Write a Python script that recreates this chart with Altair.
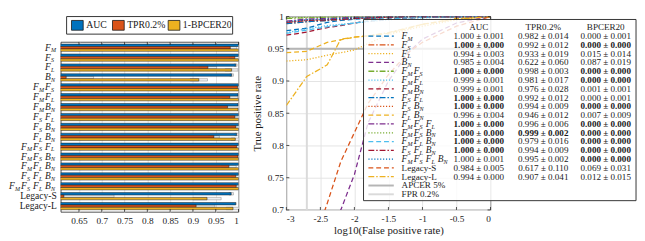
import math
import altair as alt
import pandas as pd

# ---------------- data ----------------
CATS = ["F_M", "F_S", "F_L", "B_N", "F_M F_S", "F_M F_L", "F_M B_N", "F_S F_L",
        "F_S B_N", "F_L B_N", "F_M F_S F_L", "F_M F_S B_N", "F_M F_L B_N",
        "F_S F_L B_N", "F_M F_S F_L B_N", "Legacy-S", "Legacy-L"]
METRICS = ["AUC", "TPR0.2%", "1-BPCER20"]

AUC_MEAN = [1.000, 1.000, 0.994, 0.985, 1.000, 0.999, 0.999, 1.000, 1.000, 0.996,
            1.000, 1.000, 1.000, 1.000, 1.000, 0.984, 0.994]
AUC_STD = [0.001, 0.000, 0.003, 0.004, 0.000, 0.001, 0.001, 0.000, 0.000, 0.004,
           0.000, 0.000, 0.000, 0.000, 0.001, 0.005, 0.000]
TPR_MEAN = [0.982, 0.992, 0.933, 0.622, 0.998, 0.981, 0.976, 0.992, 0.994, 0.946,
            0.996, 0.999, 0.979, 0.994, 0.995, 0.617, 0.907]
TPR_STD = [0.014, 0.012, 0.019, 0.060, 0.003, 0.017, 0.028, 0.012, 0.009, 0.012,
           0.006, 0.002, 0.016, 0.009, 0.002, 0.110, 0.041]
BPCER_MEAN = [0.000, 0.000, 0.015, 0.087, 0.000, 0.000, 0.001, 0.000, 0.000, 0.007,
              0.000, 0.000, 0.000, 0.000, 0.000, 0.069, 0.012]
BPCER_STD = [0.001, 0.000, 0.014, 0.019, 0.000, 0.000, 0.001, 0.001, 0.000, 0.009,
             0.000, 0.000, 0.000, 0.000, 0.000, 0.031, 0.015]

LOG_FPR = [-3.0, -2.7, -2.4, -2.2, -2.0, -1.8, -1.5, -1.2, -1.0, -0.5, 0.0]
ROC_TPR = [
    [0.978, 0.982, 0.991, 0.994, 0.996, 0.997, 0.998, 0.999, 0.999, 1.000, 1.000],
    [0.989, 0.992, 0.994, 0.995, 0.997, 0.998, 0.999, 1.000, 1.000, 1.000, 1.000],
    [0.931, 0.933, 0.940, 0.944, 0.948, 0.958, 0.972, 0.980, 0.985, 0.995, 1.000],
    [0.500, 0.622, 0.665, 0.700, 0.755, 0.835, 0.900, 0.945, 0.965, 0.990, 1.000],
    [0.997, 0.998, 0.999, 0.999, 0.999, 1.000, 1.000, 1.000, 1.000, 1.000, 1.000],
    [0.975, 0.981, 0.986, 0.988, 0.990, 0.992, 0.995, 0.997, 0.998, 1.000, 1.000],
    [0.971, 0.976, 0.983, 0.986, 0.990, 0.993, 0.996, 0.998, 0.999, 1.000, 1.000],
    [0.989, 0.992, 0.994, 0.996, 0.997, 0.998, 0.999, 1.000, 1.000, 1.000, 1.000],
    [0.991, 0.994, 0.995, 0.996, 0.997, 0.998, 0.999, 1.000, 1.000, 1.000, 1.000],
    [0.944, 0.946, 0.960, 0.964, 0.968, 0.970, 0.974, 0.982, 0.988, 0.997, 1.000],
    [0.993, 0.996, 0.997, 0.998, 0.999, 1.000, 1.000, 1.000, 1.000, 1.000, 1.000],
    [0.998, 0.999, 0.999, 1.000, 1.000, 1.000, 1.000, 1.000, 1.000, 1.000, 1.000],
    [0.974, 0.979, 0.984, 0.987, 0.990, 0.993, 0.996, 0.998, 0.999, 1.000, 1.000],
    [0.991, 0.994, 0.995, 0.996, 0.997, 0.998, 0.999, 1.000, 1.000, 1.000, 1.000],
    [0.992, 0.995, 0.996, 0.997, 0.998, 0.999, 1.000, 1.000, 1.000, 1.000, 1.000],
    [0.500, 0.617, 0.710, 0.775, 0.820, 0.865, 0.910, 0.945, 0.960, 0.985, 1.000],
    [0.862, 0.907, 0.925, 0.965, 0.968, 0.970, 0.975, 0.983, 0.988, 0.996, 1.000],
]
APCER_LEVEL = 0.05
FPR_LEVEL = 0.002
REF_LABELS = ["APCER 5%", "FPR 0.2%"]
TABLE_HEAD = ["AUC", "TPR0.2%", "BPCER20"]
TICKS_L = [0.65, 0.7, 0.75, 0.8, 0.85, 0.9, 0.95, 1.0]
TICKS_RX = [-3, -2.5, -2, -1.5, -1, -0.5, 0]
TICKS_RY = [0.7, 0.75, 0.8, 0.85, 0.9, 0.95, 1.0]

# ---------------- styles ----------------
SERIF = "Liberation Serif"
MATLAB = ["#0072BD", "#D95319", "#EDB120", "#7E2F8E", "#77AC30", "#4DBEEE", "#A2142F"]
DASHES = [[5, 3], [6, 2, 1.5, 2], [1.2, 1.8]]
SER_COLORS = [MATLAB[i % 7] for i in range(len(CATS))]
SER_DASH = [DASHES[i % 3] for i in range(len(CATS))]
BAR_COLORS = ["#0072BD", "#D95319", "#EDB120"]
TXT = "#1a1a1a"
GRID = "#e3e3e3"
TICK_LEN = 3

W_L, H_L = 182, 174
W_R, H_R = 209, 198
LEG_H = 18

# token metrics for "F_M"-style labels
TOK_STEP, SUB_DX, MAIN_FS, SUB_FS, SUB_DY = 12.3, 6.0, 9.6, 6.2, 2.8


def tokens(lbl):
    parts = lbl.split()
    if all("_" in p for p in parts):
        return [tuple(p.split("_")) for p in parts]
    return None


# ---------------- left: legend strip ----------------
leg_df = pd.DataFrame({"metric": METRICS,
                       "sx": [11, 53, 110], "tx": [26, 68, 125]})
leg_box = alt.Chart(pd.DataFrame({"a": [6], "b": [176], "c": [0], "d": [LEG_H]})).mark_rect(
    fill="white", stroke="#333333", strokeWidth=1).encode(
    x=alt.X("a:Q", scale=None), x2="b:Q", y=alt.Y("c:Q", scale=None), y2="d:Q")
leg_sq = alt.Chart(leg_df).transform_calculate(
    sx2="datum.sx + 12", sy=str(LEG_H / 2 - 5), sy2=str(LEG_H / 2 + 5)).mark_rect(
    stroke="#1a1a1a", strokeWidth=0.8).encode(
    x=alt.X("sx:Q", scale=None), x2="sx2:Q", y=alt.Y("sy:Q", scale=None), y2="sy2:Q",
    color=alt.Color("metric:N", scale=alt.Scale(domain=METRICS, range=BAR_COLORS), legend=None))
leg_tx = alt.Chart(leg_df).transform_calculate(ty=str(LEG_H / 2)).mark_text(
    font=SERIF, fontSize=10, align="left", baseline="middle", color=TXT).encode(
    x=alt.X("tx:Q", scale=None), y=alt.Y("ty:Q", scale=None), text="metric:N")
legend_strip = alt.layer(leg_box, leg_sq, leg_tx).properties(
    width=W_L, height=LEG_H, view=alt.ViewBackground(stroke="transparent"))

# ---------------- left: bar chart ----------------
rows = []
for i, c in enumerate(CATS):
    vals = [(AUC_MEAN[i], AUC_STD[i]), (TPR_MEAN[i], TPR_STD[i]),
            (1 - BPCER_MEAN[i], BPCER_STD[i])]
    for m, (v, s) in zip(METRICS, vals):
        rows.append({"cat": c, "metric": m, "value": v, "lo": v - s, "hi": v + s})
bars_df = pd.DataFrame(rows)

yscale = alt.Scale(domain=CATS, paddingInner=0.27, paddingOuter=0.22)
yenc = alt.Y("cat:N", scale=yscale, axis=alt.Axis(labels=False, ticks=False, title=None,
                                                    domain=False, grid=False))
yoff = alt.YOffset("metric:N", scale=alt.Scale(domain=METRICS, paddingInner=0.0, paddingOuter=0.0))
xscale_l = alt.Scale(domain=[0.61, 1.0], nice=False, zero=False)
xaxis_l = alt.Axis(values=TICKS_L, format="~g",
                   title=None, grid=True, gridColor=GRID, ticks=False, labelPadding=4,
                   domain=False)

err = alt.Chart(bars_df).mark_bar(clip=True, color="#eeeeee", stroke="#8a8a8a",
                                  strokeWidth=0.5).encode(
    x=alt.X("lo:Q", scale=xscale_l, axis=xaxis_l), x2="hi:Q", y=yenc, yOffset=yoff)

bars = alt.Chart(bars_df).mark_bar(clip=True, stroke="#1a1a1a", strokeWidth=0.5).encode(
    x=alt.X("value:Q", scale=xscale_l, axis=xaxis_l), y=yenc, yOffset=yoff,
    color=alt.Color("metric:N", scale=alt.Scale(domain=METRICS, range=BAR_COLORS), legend=None))

tl_df = pd.DataFrame({"v": TICKS_L})
ticks_l_bot = alt.Chart(tl_df).mark_rule(color="#262626", strokeWidth=0.8).encode(
    x=alt.X("v:Q", scale=xscale_l, axis=xaxis_l), y=alt.value(H_L), y2=alt.value(H_L - TICK_LEN))
ticks_l_top = alt.Chart(tl_df).mark_rule(color="#262626", strokeWidth=0.8).encode(
    x=alt.X("v:Q", scale=xscale_l, axis=xaxis_l), y=alt.value(0), y2=alt.value(TICK_LEN))

lab_main, lab_sub, lab_plain = [], [], []
for c in CATS:
    tk = tokens(c)
    if tk is None:
        lab_plain.append({"cat": c, "px": -4, "t": c})
    else:
        k = len(tk)
        for j, (a, b) in enumerate(tk):
            xm = -16 - (k - 1 - j) * TOK_STEP
            lab_main.append({"cat": c, "px": xm, "t": a})
            lab_sub.append({"cat": c, "px": xm + SUB_DX, "t": b})

ymain = alt.Y("cat:N", scale=yscale, axis=None)
t_main = alt.Chart(pd.DataFrame(lab_main)).mark_text(
    font=SERIF, fontStyle="italic", fontSize=MAIN_FS, align="left", baseline="middle",
    color=TXT).encode(x=alt.X("px:Q", scale=None), y=ymain, text="t:N")
t_sub = alt.Chart(pd.DataFrame(lab_sub)).mark_text(
    font=SERIF, fontStyle="italic", fontSize=SUB_FS, align="left", baseline="middle",
    dy=SUB_DY, color=TXT).encode(x=alt.X("px:Q", scale=None), y=ymain, text="t:N")
t_plain = alt.Chart(pd.DataFrame(lab_plain)).mark_text(
    font=SERIF, fontSize=9.8, align="right", baseline="middle",
    color=TXT).encode(x=alt.X("px:Q", scale=None), y=ymain, text="t:N")

barplot = alt.layer(err, bars, ticks_l_bot, ticks_l_top, t_main, t_sub, t_plain).properties(
    width=W_L, height=H_L)
left = alt.vconcat(legend_strip, barplot, spacing=6)

# ---------------- right: ROC curves ----------------
roc_rows = []
for i, c in enumerate(CATS):
    for k, (x, y) in enumerate(zip(LOG_FPR, ROC_TPR[i])):
        roc_rows.append({"series": c, "x": x, "y": y, "k": k})
roc_df = pd.DataFrame(roc_rows)

xscale_r = alt.Scale(domain=[-3, 0], nice=False, zero=False)
yscale_r = alt.Scale(domain=[0.7, 1.0], nice=False, zero=False)
xaxis_r = alt.Axis(values=TICKS_RX,
                   labelExpr="replace(format(datum.value, '~g'), '\u2212', '-')",
                   title="log10(False positive rate)", grid=True, gridColor=GRID,
                   ticks=False, labelPadding=4, titlePadding=2, domain=False)
yaxis_r = alt.Axis(values=TICKS_RY, format="~g",
                   title="True positive rate", grid=True, gridColor=GRID,
                   ticks=False, labelPadding=3, titlePadding=5, domain=False)
col_scale = alt.Scale(domain=CATS, range=SER_COLORS)
dash_scale = alt.Scale(domain=CATS, range=SER_DASH)

apcer = alt.Chart(pd.DataFrame({"y": [1 - APCER_LEVEL]})).mark_rule(
    color="#b5b5b5", strokeWidth=2).encode(y=alt.Y("y:Q", scale=yscale_r, axis=yaxis_r))
fprl = alt.Chart(pd.DataFrame({"x": [math.log10(FPR_LEVEL)]})).mark_rule(
    color="#dadada", strokeWidth=2).encode(x=alt.X("x:Q", scale=xscale_r, axis=xaxis_r))

curves = alt.Chart(roc_df).mark_line(clip=True, strokeWidth=1.3).encode(
    x=alt.X("x:Q", scale=xscale_r, axis=xaxis_r),
    y=alt.Y("y:Q", scale=yscale_r, axis=yaxis_r),
    color=alt.Color("series:N", scale=col_scale, legend=None),
    strokeDash=alt.StrokeDash("series:N", scale=dash_scale, legend=None),
    order="k:Q")

trx = pd.DataFrame({"v": TICKS_RX})
try_ = pd.DataFrame({"v": TICKS_RY})
tk_kw = dict(color="#262626", strokeWidth=0.8)
ticks_r = [
    alt.Chart(trx).mark_rule(**tk_kw).encode(
        x=alt.X("v:Q", scale=xscale_r, axis=xaxis_r), y=alt.value(H_R), y2=alt.value(H_R - TICK_LEN)),
    alt.Chart(trx).mark_rule(**tk_kw).encode(
        x=alt.X("v:Q", scale=xscale_r, axis=xaxis_r), y=alt.value(0), y2=alt.value(TICK_LEN)),
    alt.Chart(try_).mark_rule(**tk_kw).encode(
        y=alt.Y("v:Q", scale=yscale_r, axis=yaxis_r), x=alt.value(0), x2=alt.value(TICK_LEN)),
    alt.Chart(try_).mark_rule(**tk_kw).encode(
        y=alt.Y("v:Q", scale=yscale_r, axis=yaxis_r), x=alt.value(W_R), x2=alt.value(W_R - TICK_LEN)),
]

# legend table (pixel layout relative to the plot area)
LX0, LX1, LY0 = 79, 358, 3
ROW0, DY = 20.0, 9.0
n_rows = len(CATS) + len(REF_LABELS)
box = alt.Chart(pd.DataFrame({"a": [LX0], "b": [LX1], "c": [LY0],
                              "d": [ROW0 + (n_rows - 1) * DY + 6.5]})).mark_rect(
    fill="white", fillOpacity=0.8, stroke="#333333", strokeWidth=1).encode(
    x=alt.X("a:Q", scale=None), x2="b:Q", y=alt.Y("c:Q", scale=None), y2="d:Q")

samp = pd.DataFrame({"series": CATS, "x1": [84] * len(CATS), "x2": [110] * len(CATS),
                     "y": [ROW0 + i * DY for i in range(len(CATS))]})
samples = alt.Chart(samp).mark_rule(strokeWidth=1.3).encode(
    x=alt.X("x1:Q", scale=None), x2="x2:Q", y=alt.Y("y:Q", scale=None),
    color=alt.Color("series:N", scale=col_scale, legend=None),
    strokeDash=alt.StrokeDash("series:N", scale=dash_scale, legend=None))
ref_samp = alt.Chart(pd.DataFrame({
    "x1": [84, 84], "x2": [110, 110],
    "y": [ROW0 + (len(CATS) + j) * DY for j in range(2)],
    "c": ["#b5b5b5", "#dadada"]})).mark_rule(strokeWidth=2).encode(
    x=alt.X("x1:Q", scale=None), x2="x2:Q", y=alt.Y("y:Q", scale=None),
    color=alt.Color("c:N", scale=None))

lg_main, lg_sub, lg_plain = [], [], []
for i, c in enumerate(CATS + REF_LABELS):
    yy = ROW0 + i * DY
    tk = tokens(c)
    if tk is None:
        lg_plain.append({"px": 118, "py": yy, "t": c})
    else:
        for j, (a, b) in enumerate(tk):
            xm = 118 + j * TOK_STEP
            lg_main.append({"px": xm, "py": yy, "t": a})
            lg_sub.append({"px": xm + SUB_DX, "py": yy, "t": b})

cells = []
COLX = [197, 263, 327]
for i, c in enumerate(CATS):
    trip = [(AUC_MEAN[i], AUC_STD[i]), (TPR_MEAN[i], TPR_STD[i]), (BPCER_MEAN[i], BPCER_STD[i])]
    best = [
        (AUC_MEAN[i] == max(AUC_MEAN) and AUC_STD[i] == 0.0),
        (TPR_MEAN[i] == max(TPR_MEAN)),
        (BPCER_MEAN[i] == min(BPCER_MEAN) and BPCER_STD[i] == 0.0),
    ]
    for j, (m, s) in enumerate(trip):
        cells.append({"px": COLX[j], "py": ROW0 + i * DY, "t": f"{m:.3f} \u00b1 {s:.3f}",
                      "b": best[j]})
cells_df = pd.DataFrame(cells)
head_df = pd.DataFrame({"px": COLX, "py": [ROW0 - DY] * 3, "t": TABLE_HEAD})


def ptext(df, **kw):
    return alt.Chart(df).mark_text(font=SERIF, baseline="middle", color=TXT, **kw).encode(
        x=alt.X("px:Q", scale=None), y=alt.Y("py:Q", scale=None), text="t:N")


lg1 = ptext(pd.DataFrame(lg_main), fontStyle="italic", fontSize=MAIN_FS, align="left")
lg2 = ptext(pd.DataFrame(lg_sub), fontStyle="italic", fontSize=SUB_FS, align="left", dy=SUB_DY)
lg3 = ptext(pd.DataFrame(lg_plain), fontSize=9.3, align="left")
hd = ptext(head_df, fontSize=9.3, align="center")
c_norm = ptext(cells_df[~cells_df["b"]], fontSize=9.3, align="center")
c_bold = ptext(cells_df[cells_df["b"]], fontSize=9.3, align="center", fontWeight="bold")

right = alt.layer(fprl, apcer, curves, *ticks_r, box, samples, ref_samp, lg1, lg2, lg3, hd,
                  c_norm, c_bold).properties(width=W_R, height=H_R)

chart = alt.hconcat(left, right, spacing=11).resolve_scale(
    color="independent", strokeDash="independent", x="independent", y="independent"
).properties(
    padding={"left": 0, "top": 0, "right": 0, "bottom": 0}
).configure_view(stroke="#262626", strokeWidth=0.8).configure_axis(
    labelFont=SERIF, labelFontSize=9.5, labelColor=TXT, titleFont=SERIF,
    titleFontSize=11, titleFontWeight="normal", titleColor=TXT)

chart.save("out.html", embed_options={"renderer": "svg", "actions": False})
